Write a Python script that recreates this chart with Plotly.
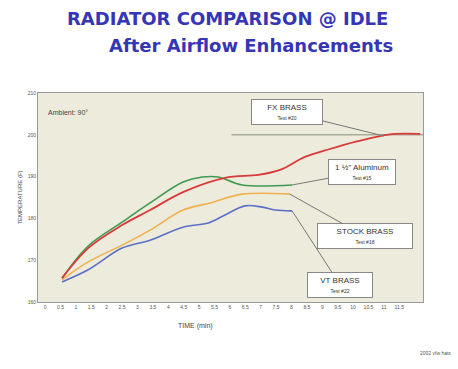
import plotly.graph_objects as go

# Coolant temperature (F) vs time (min), idle test after airflow changes
fx_t = [0.55, 1.4, 2.5, 3.41, 4.48, 5.84, 6.92, 7.63, 8.44, 9.25, 10.06, 10.88, 11.36, 12.18]
fx_T = [165.7, 172.9, 178.4, 182.0, 186.3, 189.7, 190.4, 191.6, 194.7, 196.6, 198.3, 199.7, 200.2, 200.2]

al_t = [0.55, 1.4, 2.5, 3.41, 4.48, 5.1, 5.62, 6.4, 8.02]
al_T = [165.7, 173.4, 179.1, 183.7, 188.7, 189.9, 189.9, 188.0, 188.0]

stock_t = [0.55, 1.4, 2.5, 3.41, 4.48, 5.36, 6.4, 7.95]
stock_T = [165.3, 169.6, 173.6, 177.2, 182.0, 183.7, 185.8, 185.8]

vt_t = [0.55, 1.4, 2.5, 3.41, 4.48, 5.3, 5.84, 6.49, 7.05, 7.47, 8.02]
vt_T = [164.8, 167.7, 172.9, 174.8, 177.9, 178.9, 180.8, 183.0, 182.7, 182.0, 181.8]

ref_t = [6.05, 12.27]
ref_T = [200.0, 200.0]

x_ticks = [i * 0.5 for i in range(24)]
x_labels = [("%g" % v) for v in x_ticks]
y_ticks = [160, 170, 180, 190, 200, 210]

fig = go.Figure()
fig.add_trace(go.Scatter(x=ref_t, y=ref_T, mode="lines", line=dict(color="#a9ad9a", width=1.5)))
fig.add_trace(go.Scatter(x=stock_t, y=stock_T, mode="lines", line=dict(color="#f0b050", width=1.6, shape="spline")))
fig.add_trace(go.Scatter(x=vt_t, y=vt_T, mode="lines", line=dict(color="#5a6fc8", width=1.6, shape="spline")))
fig.add_trace(go.Scatter(x=al_t, y=al_T, mode="lines", line=dict(color="#3e9a50", width=1.6, shape="spline")))
fig.add_trace(go.Scatter(x=fx_t, y=fx_T, mode="lines", line=dict(color="#d83a3a", width=1.8, shape="spline")))

def callout(name, test, x, y, ax, ay, w):
    fig.add_annotation(
        x=x, y=y, ax=ax, ay=ay, axref="pixel", ayref="pixel",
        text=f"{name}<br><span style='font-size:5px'>{test}</span>",
        showarrow=True, arrowhead=0, arrowwidth=1, arrowcolor="#777",
        bgcolor="white", bordercolor="#888", borderwidth=1, borderpad=3,
        font=dict(size=8, color="#333", family="Liberation Sans"), width=w,
    )

callout("FX BRASS", "Test #20", 11.0, 199.7, -97, -24, 64)
callout("1 ½\" Aluminum", "Test #15", 8.02, 188.0, 70, -13, 60)
callout("STOCK BRASS", "Test #18", 7.95, 185.8, 75, 42, 88)
callout("VT BRASS", "Test #22", 8.02, 181.8, 48, 74, 58)

fig.add_annotation(x=0.75, y=205.3, text="Ambient: 90°", showarrow=False,
                   font=dict(size=7, color="#444", family="Liberation Sans"))

fig.update_layout(
    width=458, height=369,
    margin=dict(l=38, r=35, t=93, b=67),
    paper_bgcolor="white", plot_bgcolor="#edecdc",
    showlegend=False,
    font=dict(family="Liberation Sans", color="#555"),
    xaxis=dict(range=[-0.23, 12.27], tickvals=x_ticks, ticktext=x_labels,
               tickfont=dict(size=5), showgrid=False, zeroline=False, ticklen=3,
               showline=True, linecolor="#999", mirror=True),
    yaxis=dict(range=[160, 210], tickvals=y_ticks, tickfont=dict(size=5),
               showgrid=False, zeroline=False, showline=True, linecolor="#999", mirror=True,
               title=dict(text="TEMPERATURE (F)", font=dict(size=6, color="#444"), standoff=4)),
)

fig.add_annotation(xref="paper", yref="paper", x=0.41, y=0, yshift=-18,
                   text="TIME (min)", showarrow=False, xanchor="center", yanchor="top",
                   font=dict(size=7, color="#444"))

title_font = dict(family="Comic Sans MS, DejaVu Sans, sans-serif", size=18, color="#3535b5")
fig.add_annotation(xref="paper", yref="paper", x=0.5, y=1, xshift=-3, yshift=75,
                   text="<b>RADIATOR COMPARISON @ IDLE</b>", showarrow=False, font=title_font,
                   xanchor="center", yanchor="middle")
fig.add_annotation(xref="paper", yref="paper", x=0.5, y=1, xshift=20, yshift=48,
                   text="<b>After Airflow Enhancements</b>", showarrow=False, font=title_font,
                   xanchor="center", yanchor="middle")
fig.add_annotation(xref="paper", yref="paper", x=1, y=0, xshift=30, yshift=-56,
                   text="2002 vfw hats", showarrow=False, xanchor="right",
                   font=dict(size=5, color="#555"))

fig.write_html("out.html")
